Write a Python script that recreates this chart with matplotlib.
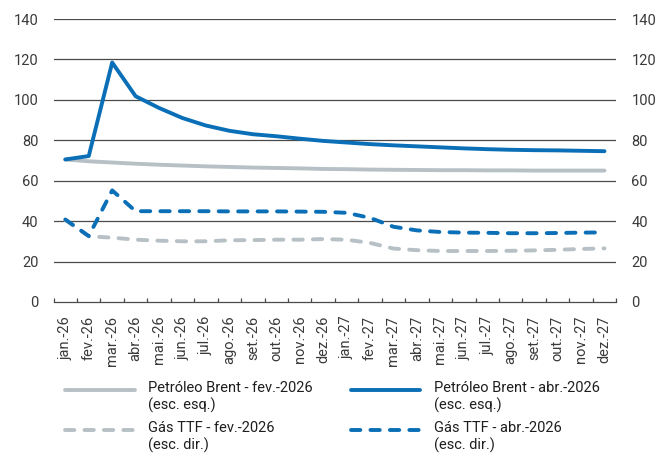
import matplotlib
matplotlib.use("Agg")
import matplotlib.pyplot as plt
from matplotlib.lines import Line2D
import numpy as np

plt.rcParams['font.family'] = ['Roboto', 'DejaVu Sans']

months = ["jan.-26", "fev.-26", "mar.-26", "abr.-26", "mai.-26", "jun.-26",
          "jul.-26", "ago.-26", "set.-26", "out.-26", "nov.-26", "dez.-26",
          "jan.-27", "fev.-27", "mar.-27", "abr.-27", "mai.-27", "jun.-27",
          "jul.-27", "ago.-27", "set.-27", "out.-27", "nov.-27", "dez.-27"]

brent_fev = [70.5, 69.6, 69.0, 68.4, 67.9, 67.5, 67.1, 66.8, 66.5, 66.3, 66.1, 65.8,
             65.7, 65.5, 65.4, 65.3, 65.2, 65.2, 65.1, 65.1, 65.0, 65.0, 65.0, 65.0]
brent_abr = [70.5, 72.2, 118.5, 101.8, 96.0, 91.0, 87.3, 84.7, 83.0, 82.0, 80.8, 79.7,
             78.9, 78.1, 77.5, 77.0, 76.5, 76.0, 75.6, 75.3, 75.1, 75.0, 74.8, 74.6]
ttf_fev = [40.5, 32.5, 31.8, 30.8, 30.3, 30.0, 30.0, 30.5, 30.6, 30.8, 30.8, 31.1,
           30.8, 29.2, 26.4, 25.6, 25.2, 25.2, 25.2, 25.3, 25.5, 25.8, 26.2, 26.5]
ttf_abr = [40.8, 32.6, 55.2, 44.9, 44.9, 44.9, 44.9, 44.8, 44.8, 44.8, 44.7, 44.6,
           44.1, 41.6, 37.2, 35.4, 34.6, 34.3, 34.2, 34.0, 34.0, 34.1, 34.3, 34.4]

yticks = [0, 20, 40, 60, 80, 100, 120, 140]

legend_labels = ["Petróleo Brent - fev.-2026\n(esc. esq.)",
                 "Petróleo Brent - abr.-2026\n(esc. esq.)",
                 "Gás TTF - fev.-2026\n(esc. dir.)",
                 "Gás TTF - abr.-2026\n(esc. dir.)"]

BLUE = "#0a6fb6"
GREY = "#b7c0c4"
TEXT = "#3a3a3a"
GRID = "#4a4a4a"
LW = 2.8
DASH = (2.4, 2.6)
FS = 10.5

fig = plt.figure(figsize=(6.64, 4.54), dpi=100)
ax = fig.add_axes([0.0807, 0.335, 0.8473, 0.623])
ax2 = ax.twinx()

x = np.arange(len(months))

ax.plot(x, brent_fev, color=GREY, lw=LW, solid_capstyle="round", solid_joinstyle="round", zorder=3)
ax.plot(x, brent_abr, color=BLUE, lw=LW, solid_capstyle="round", solid_joinstyle="round", zorder=4)
l1, = ax2.plot(x, ttf_fev, color=GREY, lw=LW, dash_capstyle="round", zorder=3)
l2, = ax2.plot(x, ttf_abr, color=BLUE, lw=LW, dash_capstyle="round", zorder=4)
for ln in (l1, l2):
    ln.set_dashes(DASH)

for a in (ax, ax2):
    a.set_ylim(0, 140)
    a.set_yticks(yticks)
    a.set_xlim(-0.5, len(months) - 0.5)
    for s in a.spines.values():
        s.set_visible(False)
    a.tick_params(axis="y", length=0, labelsize=FS, labelcolor=TEXT, pad=11)

ax.spines["bottom"].set_visible(True)
ax.spines["bottom"].set_color(GRID)
ax.spines["bottom"].set_linewidth(0.9)

for v in yticks[1:]:
    ax.axhline(v, color=GRID, lw=0.9, zorder=1)

ax.set_xticks(x)
ax.set_xticklabels(months, rotation=90, fontsize=FS, color=TEXT)
ax.set_xticks(np.arange(len(months) + 1) - 0.5, minor=True)
ax.tick_params(axis="x", which="major", length=0, pad=10)
ax.tick_params(axis="x", which="minor", length=3.2, width=0.9, color=GRID, direction="in")

ax2.set_zorder(ax.get_zorder() + 1)
ax2.patch.set_visible(False)

# legend, drawn by hand so each key sits level with the first label line
W, H = 664, 454
entries = [
    (65, 135, 390, GREY, None, legend_labels[0], 148),
    (351, 420, 390, BLUE, None, legend_labels[1], 434),
    (65, 135, 430, GREY, DASH, legend_labels[2], 148),
    (351, 420, 430, BLUE, DASH, legend_labels[3], 434),
]
for x0, x1, yy, col, dash, lab, tx in entries:
    ln = Line2D([x0 / W, x1 / W], [1 - yy / H, 1 - yy / H], transform=fig.transFigure,
                color=col, lw=LW, solid_capstyle="round", dash_capstyle="round")
    if dash:
        ln.set_dashes(dash)
    fig.add_artist(ln)
    fig.text(tx / W, 1 - (yy - 8.5) / H, lab, fontsize=FS, color="#1e1e1e",
             va="top", ha="left", linespacing=1.2)

fig.savefig("out.png", dpi=100)
